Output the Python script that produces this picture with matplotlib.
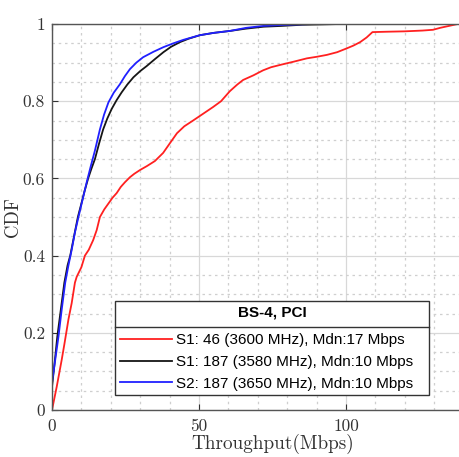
import matplotlib
matplotlib.use('Agg')
import matplotlib.pyplot as plt
from matplotlib.ticker import MultipleLocator
from matplotlib.lines import Line2D

# CDF curves (throughput in Mbps, cumulative probability)
red_x = [0, 1.6, 3.3, 4.2, 5.0, 5.6, 6.7, 7.8, 8.4, 10.0, 11.2, 12.5, 14.0, 15.2, 16.3,
         17.8, 19.2, 20.6, 22.0, 23.4, 24.8, 26.5, 28.0, 30.0, 32.3, 35.0, 37.8, 40.0,
         42.5, 45.0, 48.0, 51.5, 54.8, 57.5, 60.5, 63.0, 65.0, 68.5, 71.8, 74.5, 77.6,
         82.0, 86.7, 90.0, 93.5, 97.0, 100.3, 102.5, 104.8, 107.0, 109.0, 114.0, 120.0,
         126.0, 129.6, 132.0, 135.0, 138.0, 150.0]
red_y = [0, 0.06, 0.13, 0.17, 0.207, 0.235, 0.277, 0.33, 0.345, 0.37, 0.40, 0.415, 0.44,
         0.466, 0.50, 0.52, 0.535, 0.55, 0.562, 0.578, 0.59, 0.603, 0.612, 0.622, 0.632,
         0.645, 0.666, 0.69, 0.717, 0.735, 0.75, 0.768, 0.785, 0.80, 0.826, 0.843, 0.855,
         0.867, 0.88, 0.888, 0.894, 0.902, 0.911, 0.915, 0.92, 0.927, 0.937, 0.944, 0.953,
         0.965, 0.979, 0.980, 0.981, 0.983, 0.985, 0.99, 0.995, 1.0, 1.0]

black_x = [0, 0, 1.0, 1.8, 3.0, 4.2, 5.3, 6.2, 7.5, 8.8, 10.0, 11.0, 12.3, 13.4, 14.6,
           16.0, 17.4, 18.8, 20.3, 22.0, 23.7, 25.6, 27.7, 30.0, 32.2, 35.0, 37.9, 40.5,
           43.5, 46.5, 50.3, 55.0, 60.5, 66.0, 72.0, 78.0, 85.0, 92.0, 98.0]
black_y = [0, 0.06, 0.13, 0.19, 0.26, 0.33, 0.375, 0.40, 0.45, 0.50, 0.535, 0.565, 0.60,
           0.625, 0.65, 0.69, 0.727, 0.755, 0.78, 0.803, 0.823, 0.843, 0.862, 0.878, 0.891,
           0.909, 0.927, 0.941, 0.953, 0.962, 0.971, 0.977, 0.982, 0.988, 0.993, 0.995,
           0.998, 0.999, 1.0]

blue_x = [0, 0, 1.1, 2.2, 3.3, 4.5, 5.6, 6.7, 7.8, 9.0, 10.4, 11.8, 13.2, 14.6, 16.3,
          17.7, 19.2, 21.0, 23.1, 24.8, 26.5, 28.7, 31.0, 34.5, 37.9, 41.3, 44.7, 47.5,
          50.3, 55.0, 60.5, 66.0, 71.8, 80.0, 88.8, 100.0, 115.0]
blue_y = [0, 0.07, 0.13, 0.19, 0.26, 0.33, 0.375, 0.415, 0.46, 0.50, 0.545, 0.59, 0.632,
          0.672, 0.727, 0.765, 0.797, 0.822, 0.844, 0.865, 0.883, 0.90, 0.914, 0.928, 0.94,
          0.95, 0.959, 0.965, 0.971, 0.977, 0.982, 0.99, 0.995, 0.998, 1.0, 1.0, 1.0]

labels = ['S1: 46 (3600 MHz), Mdn:17 Mbps',
          'S1: 187 (3580 MHz), Mdn:10 Mbps',
          'S2: 187 (3650 MHz), Mdn:10 Mbps']
legend_title = 'BS-4, PCI'

fig = plt.figure(figsize=(4.6, 4.57), dpi=100)
ax = fig.add_axes([52 / 460, 47 / 457, 441 / 460, 386 / 457])

ax.plot(red_x, red_y, color='#ff2020', lw=1.3, label=labels[0])
ax.plot(black_x, black_y, color='#151515', lw=1.3, label=labels[1])
ax.plot(blue_x, blue_y, color='#2020ff', lw=1.3, label=labels[2])

ax.set_xlim(0, 150)
ax.set_ylim(0, 1)
ax.xaxis.set_minor_locator(MultipleLocator(10))
ax.yaxis.set_minor_locator(MultipleLocator(0.05))
ax.set_xticks([0, 50, 100])
ax.set_xticklabels(['0', '50', '100'])
ax.set_yticks([0, 0.2, 0.4, 0.6, 0.8, 1.0])
ax.set_yticklabels(['0', '0.2', '0.4', '0.6', '0.8', '1'])

ax.grid(which='major', color='#d8d8d8', lw=0.9, ls='-')
ax.grid(which='minor', color='#cfcfcf', lw=0.9, ls=(0, (2, 3)))
ax.set_axisbelow(True)

ax.tick_params(which='major', direction='in', top=True, right=True, length=4,
               color='#333333', labelsize=12.5, labelcolor='#333333')
ax.tick_params(axis='x', which='major', pad=6)
ax.tick_params(axis='y', which='major', pad=5)
ax.tick_params(which='minor', length=0)
for lab in ax.get_xticklabels() + ax.get_yticklabels():
    lab.set_fontfamily('cmr10')
for s in ax.spines.values():
    s.set_color('#555555')
    s.set_linewidth(1.0)

ax.set_xlabel('Throughput(Mbps)', fontfamily='cmr10', fontsize=13.8, color='#333333')
ax.set_ylabel('CDF', fontfamily='cmr10', fontsize=13.5, color='#333333')
ax.xaxis.set_label_coords(0.5, -0.063)
ax.yaxis.set_label_coords(-0.068, 0.5)

leg = ax.legend(title=legend_title, loc='lower left',
                bbox_to_anchor=(0.143, 0.038, 0.712, 0.25), mode='expand',
                prop={'family': 'Liberation Sans', 'size': 11},
                title_fontproperties={'family': 'Liberation Sans', 'size': 11, 'weight': 'bold'},
                fancybox=False, framealpha=1, edgecolor='#333333',
                handlelength=3.4, handletextpad=0.3, labelspacing=0.5,
                borderpad=0.3, borderaxespad=0)
leg.get_frame().set_linewidth(1.0)
leg._legend_box.sep = 10

# separator line under the legend title
ax.add_line(Line2D([0.143, 0.855], [0.215, 0.215], transform=ax.transAxes,
                   color='#333333', lw=1.0, zorder=10))

fig.savefig('out.png', dpi=100)
